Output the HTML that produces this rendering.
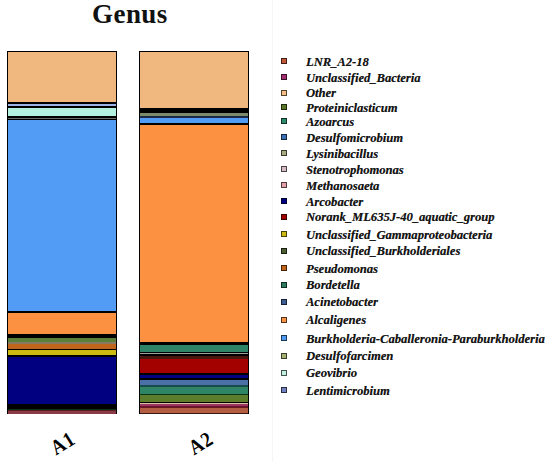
<!DOCTYPE html>
<html><head><meta charset="utf-8"><style>
html,body{margin:0;padding:0;background:#fff;}
body{width:550px;height:462px;position:relative;overflow:hidden;font-family:"Liberation Serif",serif;}
.bar{position:absolute;background:#000;}
.bar i{position:absolute;left:1px;right:1px;display:block;}
.title{position:absolute;font-weight:bold;font-size:27px;letter-spacing:0.45px;line-height:1;color:#111;}
.lab{position:absolute;font-weight:bold;font-size:21px;line-height:1;color:#000;transform-origin:0 100%;transform:rotate(-32deg) scaleX(0.9);letter-spacing:1px;}
.vl{position:absolute;left:272px;top:0;width:1px;height:462px;background:#f5f5f5;}
.mk{position:absolute;left:281px;width:4px;height:4px;border:1px solid rgba(0,0,0,.65);}
.lt{position:absolute;left:306px;font-style:italic;font-weight:bold;font-size:12.5px;line-height:1;white-space:nowrap;color:#151515;letter-spacing:0.03px;text-shadow:0.25px 0 0.5px rgba(0,0,0,.55);}
</style></head><body>
<div class="vl"></div>
<div class="title" style="left:92px;top:1px">Genus</div>
<div class="bar" style="left:7px;top:51px;width:110px;height:363px"><i style="top:1px;height:50px;background:#f0b77f"></i><i style="top:52.599999999999994px;height:2.200000000000003px;background:#9db4e6"></i><i style="top:57px;height:7.599999999999994px;background:#b4f2e0"></i><i style="top:66.8px;height:1.7000000000000028px;background:#6a6a60"></i><i style="top:68.5px;height:191.5px;background:#539cf6"></i><i style="top:262px;height:21px;background:#fd9142"></i><i style="top:287px;height:4px;background:#5b7f36"></i><i style="top:291px;height:2px;background:#8a7a60"></i><i style="top:293px;height:5px;background:#c0651c"></i><i style="top:299px;height:5px;background:#cdbb12"></i><i style="top:306px;height:47px;background:#000080"></i><i style="top:357.5px;height:1.0px;background:#0a3010"></i><i style="top:358.5px;height:1.5px;background:#5a2020"></i><i style="top:360px;height:2.5px;background:#8b3a48"></i></div>
<div class="bar" style="left:139px;top:51px;width:110px;height:363px"><i style="top:1px;height:55.5px;background:#f0b77f"></i><i style="top:61.5px;height:3.299999999999997px;background:#7d8a68"></i><i style="top:64.8px;height:2.0px;background:#1a2a48"></i><i style="top:66.8px;height:4.900000000000006px;background:#539cf6"></i><i style="top:74px;height:217px;background:#fd9142"></i><i style="top:293.6px;height:7.599999999999966px;background:#2f8468"></i><i style="top:302px;height:1px;background:#a0a0a0"></i><i style="top:304.6px;height:3.0px;background:#4a1410"></i><i style="top:307.6px;height:14.399999999999977px;background:#a30000"></i><i style="top:324px;height:3px;background:#000080"></i><i style="top:328.5px;height:5.5px;background:#4a70a8"></i><i style="top:334px;height:1.5px;background:#1a4a4a"></i><i style="top:335.5px;height:7.100000000000023px;background:#2e8565"></i><i style="top:342.6px;height:1.599999999999966px;background:#0c3418"></i><i style="top:344px;height:6.5px;background:#5c7d2c"></i><i style="top:351.5px;height:1.5px;background:#d8c0a0"></i><i style="top:353px;height:2px;background:#9b3565"></i><i style="top:355px;height:2px;background:#6a1525"></i><i style="top:357px;height:4.5px;background:#b35e42"></i><i style="top:361.5px;height:1.5px;background:#3a1a12"></i></div>
<div class="mk" style="top:58px;background:#c0583a"></div><div class="lt" style="top:56px">LNR_A2-18</div>
<div class="mk" style="top:74px;background:#a03070"></div><div class="lt" style="top:72px">Unclassified_Bacteria</div>
<div class="mk" style="top:90px;background:#f5c088"></div><div class="lt" style="top:87px">Other</div>
<div class="mk" style="top:104px;background:#5a7a2a"></div><div class="lt" style="top:101.5px">Proteiniclasticum</div>
<div class="mk" style="top:118px;background:#2a8a6a"></div><div class="lt" style="top:116px">Azoarcus</div>
<div class="mk" style="top:134px;background:#3d6fb5"></div><div class="lt" style="top:131.5px">Desulfomicrobium</div>
<div class="mk" style="top:150px;background:#a8aa80"></div><div class="lt" style="top:147.6px">Lysinibacillus</div>
<div class="mk" style="top:166px;background:#d4bcc4"></div><div class="lt" style="top:164px">Stenotrophomonas</div>
<div class="mk" style="top:182px;background:#e4a0a8"></div><div class="lt" style="top:180px">Methanosaeta</div>
<div class="mk" style="top:198px;background:#000080"></div><div class="lt" style="top:195.5px">Arcobacter</div>
<div class="mk" style="top:214px;background:#a30000"></div><div class="lt" style="top:211.2px">Norank_ML635J-40_aquatic_group</div>
<div class="mk" style="top:231px;background:#cdbb12"></div><div class="lt" style="top:228.8px">Unclassified_Gammaproteobacteria</div>
<div class="mk" style="top:248px;background:#4d5e32"></div><div class="lt" style="top:245.3px">Unclassified_Burkholderiales</div>
<div class="mk" style="top:265px;background:#c0651c"></div><div class="lt" style="top:262.7px">Pseudomonas</div>
<div class="mk" style="top:282px;background:#2e7d62"></div><div class="lt" style="top:279.4px">Bordetella</div>
<div class="mk" style="top:299px;background:#3c5c94"></div><div class="lt" style="top:296.2px">Acinetobacter</div>
<div class="mk" style="top:317px;background:#fd9142"></div><div class="lt" style="top:314.4px">Alcaligenes</div>
<div class="mk" style="top:335px;background:#4f9bf6"></div><div class="lt" style="top:332.6px">Burkholderia-Caballeronia-Paraburkholderia</div>
<div class="mk" style="top:353px;background:#a2b072"></div><div class="lt" style="top:350.4px">Desulfofarcimen</div>
<div class="mk" style="top:370px;background:#c0f0e0"></div><div class="lt" style="top:367.4px">Geovibrio</div>
<div class="mk" style="top:387px;background:#7282c0"></div><div class="lt" style="top:384.7px">Lentimicrobium</div>
<div class="lab" style="left:58px;top:438px">A1</div>
<div class="lab" style="left:196px;top:438px">A2</div>
</body></html>
